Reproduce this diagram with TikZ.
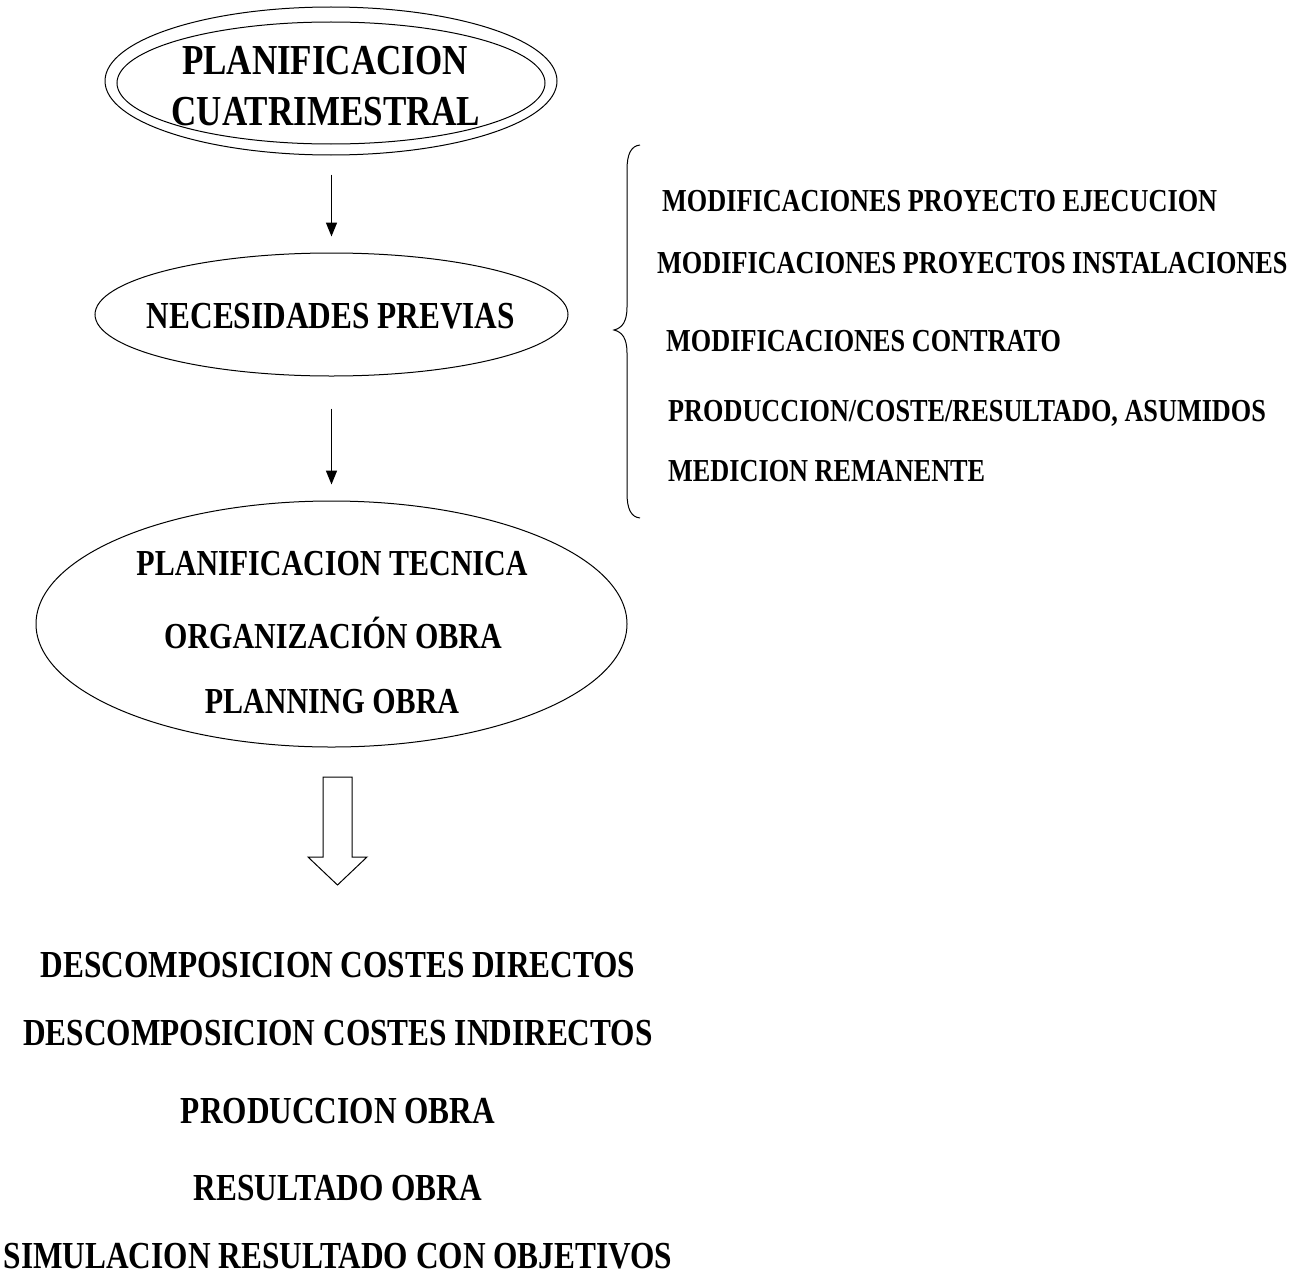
\documentclass[tikz,border=0pt]{standalone}
\usepackage{fontspec}
\newfontfamily\dfont{Liberation Serif}[FakeStretch=0.82]
\usetikzlibrary{arrows.meta,shapes.geometric}
\begin{document}
\begin{tikzpicture}[x=1pt,y=-1pt,
  ell/.style={draw, ellipse, line width=1pt, inner sep=0pt},
  tA/.style={inner sep=0pt, font=\dfont\bfseries\fontsize{42.7}{48}\selectfont},
  tB/.style={inner sep=0pt, font=\dfont\bfseries\fontsize{38.2}{44}\selectfont},
  tC/.style={inner sep=0pt, font=\dfont\bfseries\fontsize{36.6}{42}\selectfont},
  tD/.style={inner sep=0pt, font=\dfont\bfseries\fontsize{32}{38}\selectfont},
  flow/.style={-{Triangle[width=11pt,length=14pt]}, line width=1.6pt},
]
\useasboundingbox (0,0) rectangle (1305,1279);

% top double ellipse
\node[ell, minimum width=452pt, minimum height=148pt] (topo) at (331,81) {};
\node[ell, minimum width=428pt, minimum height=122pt] (topi) at (331,83) {};
\node[tA, anchor=base] (t1) at (325,75) {PLANIFICACION};
\node[tA, anchor=base] (t2) at (326,125) {CUATRIMESTRAL};

% necesidades
\node[ell, minimum width=473pt, minimum height=123pt] (nec) at (331.5,314.5) {};
\node[tB, anchor=base] (necT) at (331,328) {NECESIDADES PREVIAS};

% big ellipse
\node[ell, minimum width=591pt, minimum height=246pt] (big) at (331.5,624) {};
\node[tC, anchor=base] (b1) at (332,575) {PLANIFICACION TECNICA};
\node[tC, anchor=base] (b2) at (333,648) {ORGANIZACIÓN OBRA};
\node[tC, anchor=base] (b3) at (332,713) {PLANNING OBRA};

% arrows
\draw[flow, shorten <=19pt, shorten >=16pt] (topo.south -| nec.north) -- (nec.north);
\draw[flow, shorten <=32pt, shorten >=16pt] (nec.south) -- (big.north);

% hollow arrow
\draw[line width=1pt, line join=miter] (323,777) -- (352,777) -- (352,857) -- (367,857) -- (337.5,885) -- (308,857) -- (323,857) -- cycle;

% brace
\draw[line width=1pt] (640,145) .. controls (631,146) and (627,154) .. (627,170)
  -- (627,307) .. controls (627,322) and (622,328) .. (614,330)
  .. controls (622,332) and (627,338) .. (627,353)
  -- (627,493) .. controls (627,509) and (631,517) .. (640,518);

% right list
\node[tD, anchor=base west] (r1) at (662,211) {MODIFICACIONES PROYECTO EJECUCION};
\node[tD, anchor=base west] (r2) at (657,273) {MODIFICACIONES PROYECTOS INSTALACIONES};
\node[tD, anchor=base west] (r3) at (666,351) {MODIFICACIONES CONTRATO};
\node[tD, anchor=base west] (r4) at (668,421) {PRODUCCION/COSTE/RESULTADO, ASUMIDOS};
\node[tD, anchor=base west] (r5) at (668,481) {MEDICION REMANENTE};

% bottom list
\node[tB, anchor=base] (d1) at (338,977) {DESCOMPOSICION COSTES DIRECTOS};
\node[tB, anchor=base] (d2) at (338,1045) {DESCOMPOSICION COSTES INDIRECTOS};
\node[tB, anchor=base] (d3) at (338,1123) {PRODUCCION OBRA};
\node[tB, anchor=base] (d4) at (338,1200) {RESULTADO OBRA};
\node[tB, anchor=base] (d5) at (338,1268) {SIMULACION RESULTADO CON OBJETIVOS};
\end{tikzpicture}
\end{document}
